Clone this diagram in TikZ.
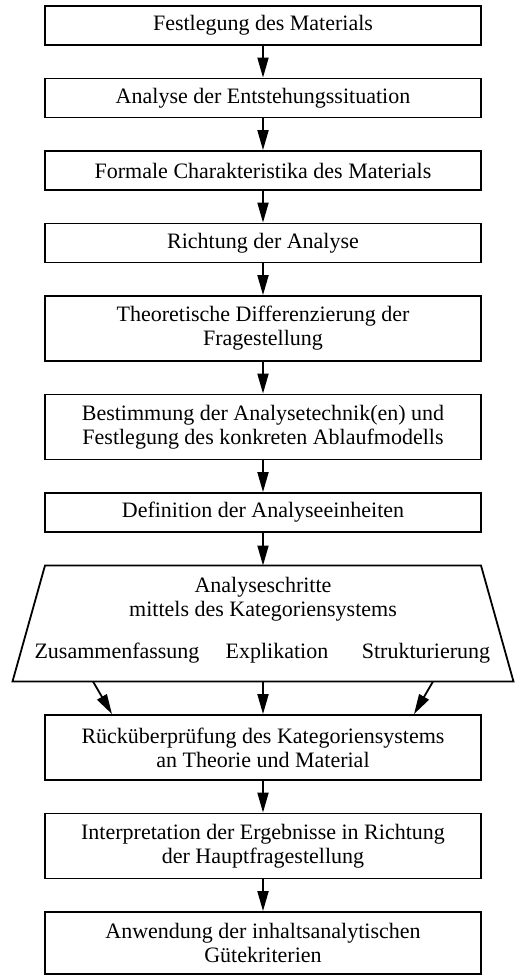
\documentclass[tikz,border=0pt]{standalone}
\usepackage{fontspec}
\setmainfont{Liberation Serif}
\usetikzlibrary{positioning,arrows.meta,calc}

\begin{document}
\begin{tikzpicture}[>={Triangle[length=10pt,width=5.5pt]}, line width=0.9pt,
  font=\fontsize{11}{12}\selectfont, node distance=15.85pt,
  stepbox/.style={draw,minimum width=218pt,minimum height=19.5pt,align=center,inner sep=0pt},
  twobox/.style={stepbox,minimum height=32.5pt},
  inlabel/.style={anchor=base,inner sep=0pt}]
  \useasboundingbox (0,0) rectangle (258pt,-487.5pt);
  \node[stepbox](mat) at (131.5pt,-12.75pt){Festlegung des Materials};
  \node[stepbox,below=of mat](sit){Analyse der Entstehungssituation};
  \node[stepbox,below=of sit](form){Formale Charakteristika des Materials};
  \node[stepbox,below=of form](dir){Richtung der Analyse};
  \node[twobox,below=of dir](diff){Theoretische Differenzierung der\\Fragestellung};
  \node[twobox,below=of diff](tech){Bestimmung der Analysetechnik(en) und\\Festlegung des konkreten Ablaufmodells};
  \node[stepbox,below=of tech](unit){Definition der Analyseeinheiten};
  % trapezoid of the analysis steps
  \coordinate[below=16.3pt of unit.south](stepsn);
  \coordinate(stepss) at ($(stepsn)+(0,-58pt)$);
  \draw ($(stepsn)+(-109pt,0)$) -- ($(stepsn)+(109pt,0)$) -- ($(stepss)+(125.25pt,0)$)
    -- ($(stepss)+(-125.25pt,0)$) -- cycle;
  \node[inlabel](stepsa) at ($(stepsn)+(0,-13.5pt)$){Analyseschritte};
  \node[inlabel](stepsb) at ($(stepsn)+(0,-25.5pt)$){mittels des Kategoriensystems};
  \node[inlabel](summ) at ($(stepsn)+(-73pt,-46.5pt)$){Zusammenfassung};
  \node[inlabel](expl) at ($(stepsn)+(7pt,-46.5pt)$){Explikation};
  \node[inlabel](struc) at ($(stepsn)+(81.5pt,-46.5pt)$){Strukturierung};
  \node[twobox,below=16.3pt of stepss](check){Rücküberprüfung des Kategoriensystems\\an Theorie und Material};
  \node[twobox,below=of check](interp){Interpretation der Ergebnisse in Richtung\\der Hauptfragestellung};
  \node[twobox,minimum height=31pt,below=of interp](qual){Anwendung der inhaltsanalytischen\\Gütekriterien};
  \foreach \a/\b in {mat/sit,sit/form,form/dir,dir/diff,diff/tech,tech/unit,unit/stepsn,stepss/check,check/interp,interp/qual}
    \draw[->](\a)--(\b);
  \draw[->]($(stepss)+(-85pt,0)$)--($(check.north)+(-75.5pt,0)$);
  \draw[->]($(stepss)+(85pt,0)$)--($(check.north)+(75.5pt,0)$);
\end{tikzpicture}
\end{document}
